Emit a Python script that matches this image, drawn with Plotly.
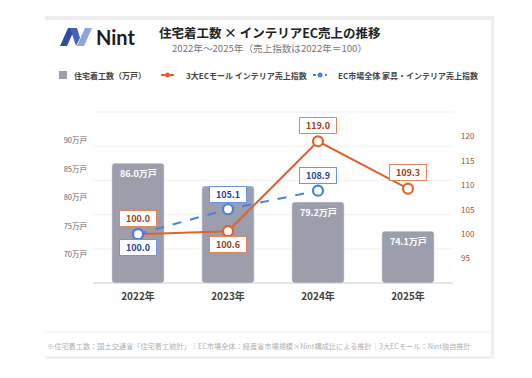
import plotly.graph_objects as go

years = ["2022年", "2023年", "2024年", "2025年"]
housing = [86.0, 82.0, 79.2, 74.1]
housing_labels = ["86.0万戸", "", "79.2万戸", "74.1万戸"]
mall_index = [100.0, 100.6, 119.0, 109.3]
ec_years = ["2022年", "2023年", "2024年"]
ec_index = [100.0, 105.1, 108.9]
left_ticks = [70, 75, 80, 85, 90]
left_ticktext = ["70万戸", "75万戸", "80万戸", "85万戸", "90万戸"]
right_ticks = [95, 100, 105, 110, 115, 120]

OFF = 8  # page body margin
W, H = 532 - OFF, 378 - OFF
L, R, T, B = 93, 453, 112, 283  # plot area in screen pixels
FONT = "Noto Sans CJK JP"
ORANGE = "#e2622a"
BLUE = "#4a7fe8"
BAR = "#9c9fab"


def px(x):
    return (x - L) / (R - L)


def py(y):
    return (B - y) / (B - T)


fig = go.Figure()
fig.add_trace(go.Bar(x=years, y=[v - 65 for v in housing], base=65, marker_color=BAR,
                     width=0.58, name="住宅着工数（万戸）", showlegend=False, hoverinfo="skip"))
fig.add_trace(go.Scatter(x=years, y=mall_index, yaxis="y2", mode="lines+markers",
                         line=dict(color=ORANGE, width=2),
                         marker=dict(size=10, color="white", line=dict(color=ORANGE, width=2.2)),
                         name="3大ECモール インテリア売上指数", showlegend=False))
fig.add_trace(go.Scatter(x=ec_years, y=ec_index, yaxis="y2", mode="lines+markers",
                         line=dict(color=BLUE, width=2, dash="dash"),
                         marker=dict(size=10, color="white", line=dict(color=BLUE, width=2.2)),
                         name="EC市場全体 家具・インテリア売上指数", showlegend=False))

shapes = []
# card borders
shapes.append(dict(type="rect", xref="paper", yref="paper", x0=px(45), x1=px(494), y0=py(16), y1=py(20),
                   fillcolor="#eeeeee", line_width=0, layer="below"))
shapes.append(dict(type="rect", xref="paper", yref="paper", x0=px(491), x1=px(494), y0=py(16), y1=py(359),
                   fillcolor="#eeeeee", line_width=0, layer="below"))
shapes.append(dict(type="rect", xref="paper", yref="paper", x0=px(45), x1=px(494), y0=py(356), y1=py(359),
                   fillcolor="#f0f0f0", line_width=0, layer="below"))
shapes.append(dict(type="line", xref="paper", yref="paper", x0=px(45), x1=px(491), y0=py(332), y1=py(332),
                   line=dict(color="#eeeeee", width=1)))
# gridlines
for i in range(1, 6):
    shapes.append(dict(type="line", xref="paper", yref="paper", x0=0, x1=1, y0=i / 5, y1=i / 5,
                       line=dict(color="#f1f1f1", width=1), layer="below"))
shapes.append(dict(type="line", xref="paper", yref="paper", x0=0, x1=1, y0=0, y1=0,
                   line=dict(color="#dddddd", width=1.5), layer="below"))


def poly(pts, color):
    d = "M " + " L ".join(f"{px(a)},{py(b)}" for a, b in pts) + " Z"
    return dict(type="path", xref="paper", yref="paper", path=d, fillcolor=color, line_width=0)


# logo icon
shapes.append(poly([(60, 46), (67, 46), (75, 28), (68, 28)], "#2f4da3"))
shapes.append(poly([(70, 28), (77, 28), (80, 38), (76, 46)], "#4763b8"))
shapes.append(poly([(77, 46), (84, 46), (92, 28), (85, 28)], "#8fa3dc"))
# legend markers
shapes.append(dict(type="rect", xref="paper", yref="paper", x0=px(59), x1=px(67), y0=py(71), y1=py(79),
                   fillcolor=BAR, line_width=0))
shapes.append(dict(type="line", xref="paper", yref="paper", x0=px(161), x1=px(174), y0=py(75), y1=py(75),
                   line=dict(color=ORANGE, width=2)))
shapes.append(dict(type="circle", xref="paper", yref="paper", x0=px(165), x1=px(170), y0=py(72.5), y1=py(77.5),
                   fillcolor=ORANGE, line_width=0))
shapes.append(dict(type="line", xref="paper", yref="paper", x0=px(313), x1=px(327), y0=py(75), y1=py(75),
                   line=dict(color=BLUE, width=2, dash="dot")))
shapes.append(dict(type="circle", xref="paper", yref="paper", x0=px(317.5), x1=px(322.5), y0=py(72.5), y1=py(77.5),
                   fillcolor=BLUE, line_width=0))

ann = []


def text(x, y, s, size, color, bold=False, xanchor="left", family=FONT):
    ann.append(dict(xref="paper", yref="paper", x=px(x), y=py(y), text=f"<b>{s}</b>" if bold else s,
                    showarrow=False, xanchor=xanchor, yanchor="middle",
                    font=dict(size=size, color=color, family=family)))


text(94, 37, "Nint", 20, "#1b1b1f", bold=True, family="Lato")
text(157, 32, "住宅着工数 × インテリアEC売上の推移", 12.5, "#222222", bold=True)
text(170, 48, "2022年～2025年（売上指数は2022年＝100）", 9.6, "#777777")
text(72, 75, "住宅着工数（万戸）", 8, "#444444", bold=True)
text(184, 75, "3大ECモール インテリア売上指数", 8, "#444444", bold=True)
text(336, 75, "EC市場全体 家具・インテリア売上指数", 8, "#444444", bold=True)
text(45, 346, "※住宅着工数：国土交通省「住宅着工統計」｜EC市場全体：経産省市場規模×Nint構成比による推計｜3大ECモール：Nint独自推計",
     7.2, "#b0b0b0")

# bar labels
for yr, v, lab in zip(years, housing, housing_labels):
    if lab:
        ann.append(dict(x=yr, y=v, xref="x", yref="y", text=f"<b>{lab}</b>", showarrow=False,
                        yanchor="middle", yshift=-10, font=dict(size=9, color="white", family=FONT)))


def plabel(xv, yv, shift, color, tcolor):
    ann.append(dict(x=xv, y=yv, xref="x", yref="y2", text=f"<b>{yv:.1f}</b>", showarrow=False,
                    yanchor="middle", yshift=shift, bgcolor="white", bordercolor=color, borderwidth=1,
                    borderpad=1, width=34, font=dict(size=9, color=tcolor, family=FONT)))


o_shift = [16, -13.5, 15.5, 16]
for yr, v, s in zip(years, mall_index, o_shift):
    plabel(yr, v, s, "#e2855a", "#9a3f17")
b_shift = [-13.5, 15, 15]
for yr, v, s in zip(ec_years, ec_index, b_shift):
    plabel(yr, v, s, "#6a95ee", "#2a3f9a")

fig.update_layout(
    width=W, height=H,
    margin=dict(l=L - OFF, r=W - (R - OFF), t=T - OFF, b=H - (B - OFF)),
    paper_bgcolor="white", plot_bgcolor="white",
    font=dict(family=FONT),
    barcornerradius=3,
    showlegend=False,
    xaxis=dict(showgrid=False, showline=False, zeroline=False, ticks="",
               tickfont=dict(size=10, color="#444444", family=FONT), ticklabelstandoff=6,
               tickvals=years, ticktext=[f"<b>{y}</b>" for y in years]),
    yaxis=dict(range=[65, 95], tickvals=left_ticks, ticktext=left_ticktext, showgrid=False,
               zeroline=False, showline=False, ticks="", ticklabelstandoff=5,
               tickfont=dict(size=7.5, color="#666666", family=FONT)),
    yaxis2=dict(range=[90, 125], overlaying="y", side="right", tickvals=right_ticks, showgrid=False,
                zeroline=False, showline=False, ticks="", ticklabelstandoff=7,
                tickfont=dict(size=8, color="#a0522d", family=FONT)),
    shapes=shapes,
    annotations=ann,
)

fig.write_html("out.html")
